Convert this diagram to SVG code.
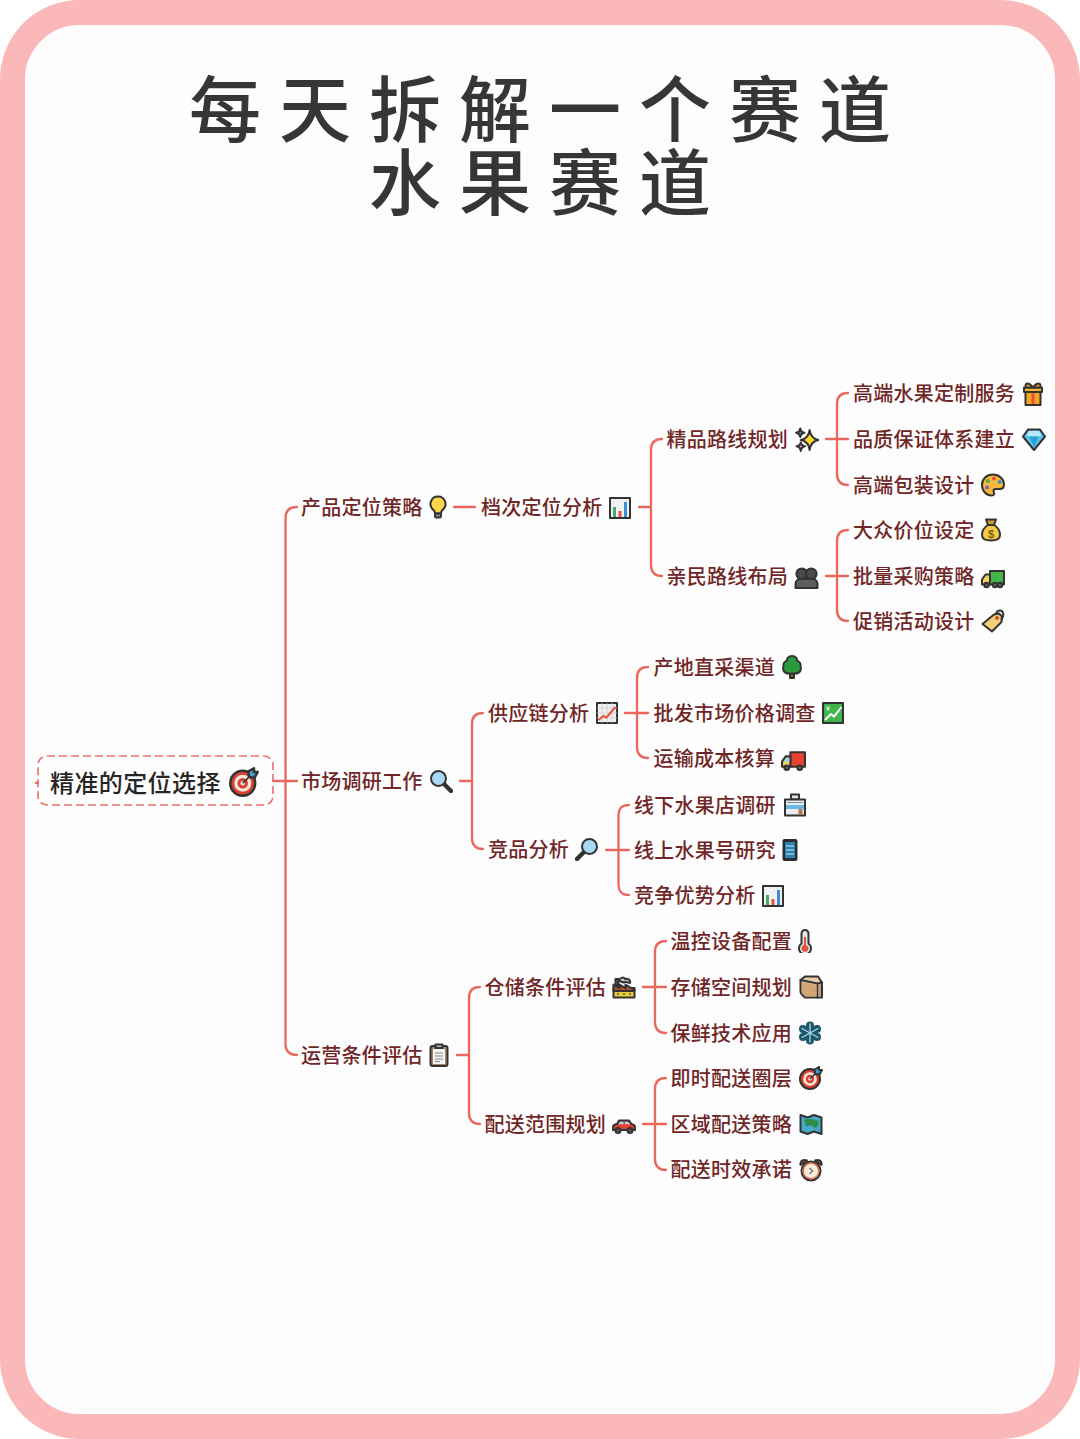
<svg xmlns="http://www.w3.org/2000/svg" width="1080" height="1439" viewBox="0 0 1080 1439">
<style>
.title{font-family:"Noto Sans CJK SC","Noto Sans",sans-serif;font-size:72px;font-weight:500;fill:#363636;letter-spacing:18px}
.t{font-family:"Noto Sans CJK SC","Noto Sans",sans-serif;font-size:20px;font-weight:500;fill:#702626;letter-spacing:.25px}
.root{font-family:"Noto Sans CJK SC","Noto Sans",sans-serif;font-size:24px;font-weight:500;fill:#262626;letter-spacing:.4px}
.c{fill:none;stroke:#e9675f;stroke-width:2.300;stroke-linecap:round}
.o{stroke:#333;stroke-width:2;stroke-linejoin:round;stroke-linecap:round}
.l{fill:none;stroke:#333;stroke-width:2;stroke-linejoin:round;stroke-linecap:round}
</style>
<defs>
<symbol id="bulb" viewBox="0 0 24 24"><path class="o" fill="#fcd34d" d="M12 1.500a7.500 7.500 0 0 0-4.500 13.500c1 .9 1.500 1.800 1.500 3.500h6c0-1.700.5-2.600 1.500-3.500A7.500 7.500 0 0 0 12 1.500z"/><rect class="o" x="9" y="18.500" width="6" height="4" rx="1.500" fill="#8a8a8a"/></symbol>
<symbol id="bars" viewBox="0 0 24 24"><rect class="o" x="2" y="2" width="20" height="20" fill="#eef2f2"/><rect x="5" y="11" width="3" height="10" fill="#46a86a"/><rect x="10.500" y="15" width="3" height="6" fill="#e5533d"/><rect x="16" y="6" width="3" height="15" fill="#3a8fd6"/></symbol>
<symbol id="spark" viewBox="0 0 24 24"><path class="o" fill="#fcd92f" d="M15 3Q16 11 23.500 12.500Q16 14 15 22Q14 14 6.500 12.500Q14 11 15 3z"/><path class="o" fill="#4d8db5" d="M6 1.500Q6.500 5 10 5.500Q6.500 6 6 9.500Q5.500 6 2 5.500Q5.500 5 6 1.500z"/><path class="o" fill="#e79ad0" d="M6.500 15Q7 18 10.500 18.500Q7 19 6.500 23Q6 19 2.500 18.500Q6 18 6.500 15z"/></symbol>
<symbol id="people" viewBox="0 0 24 24"><circle class="o" cx="7.500" cy="8.500" r="5.200" fill="#4a4a4a"/><circle class="o" cx="16.500" cy="8.500" r="5.200" fill="#4a4a4a"/><path class="o" fill="#5c5c5c" d="M1.500 22v-4c0-3 2.500-4.500 5-4.500h11c2.500 0 5 1.500 5 4.500v4z"/></symbol>
<symbol id="gift" viewBox="0 0 24 24"><path class="o" fill="#f5a623" d="M4.500 9h15v14h-15z"/><path fill="#e5533d" d="M10.500 9h3v13h-3z"/><rect class="o" x="3" y="5.500" width="18" height="4.500" fill="#f7b733"/><path class="o" fill="#f5a623" d="M12 5.500C8 0 3 .5 5 5.500zM12 5.500c4-5.500 9-5 7 0z"/></symbol>
<symbol id="gem" viewBox="0 0 24 24"><path class="o" fill="#5cc4ee" d="M6 2.500h12l5 7L12 23 1 9.500z"/><path fill="#b6e8fa" d="M7 4h10l2.500 5h-15z"/><path fill="#2e9fd6" d="M7.500 10h9L12 20.500z"/></symbol>
<symbol id="palette" viewBox="0 0 24 24"><path class="o" fill="#f6b93b" d="M12 1.500C5.500 1.500 1 6 1 12s4.500 10.500 9.500 10.500c3 0 3-2 2.200-3.500-.8-1.700.3-3 2-3h4c2.500 0 4.300-1.500 4.300-4.500C23 6 18 1.500 12 1.500z"/><circle cx="7" cy="8" r="2" fill="#4caf50"/><circle cx="13" cy="5.500" r="2" fill="#e5533d"/><circle cx="18.500" cy="9" r="2" fill="#3a8fd6"/><circle cx="6" cy="14.500" r="2" fill="#8e5bb5"/></symbol>
<symbol id="bag" viewBox="0 0 24 24"><path class="o" fill="#f6c945" d="M9 7C4 10 3 14 3 17c0 3.500 3 5.500 9 5.500s9-2 9-5.500c0-3-1-7-6-10z"/><path class="o" fill="#c99a2e" d="M7 1.500h10L15 7H9z"/><text x="12" y="19.500" font-family="Liberation Sans,sans-serif" font-size="11" font-weight="700" fill="#7a6015" text-anchor="middle">$</text></symbol>
<symbol id="truckg" viewBox="0 0 24 24"><rect class="o" x="9" y="5" width="14" height="13.500" fill="#43b649"/><path class="o" fill="#f6d25b" d="M9 8.500H4.500L1 13.500v5h8z"/><circle class="o" cx="5.500" cy="19" r="2.200" fill="#666"/><circle class="o" cx="14" cy="19" r="2.200" fill="#666"/><circle class="o" cx="19" cy="19" r="2.200" fill="#666"/></symbol>
<symbol id="truckr" viewBox="0 0 24 24"><rect class="o" x="9" y="4" width="14" height="14" fill="#e8432e"/><path class="o" fill="#f6d25b" d="M9 8H4.500L1 13v5h8z"/><path fill="#9ad5ef" d="M4.800 9.500H8v3.500H2.500z"/><circle class="o" cx="5.500" cy="19" r="2.200" fill="#666"/><circle class="o" cx="18" cy="19" r="2.200" fill="#666"/></symbol>
<symbol id="tag" viewBox="0 0 24 24"><path class="o" fill="#f6cf7a" d="M13 5.500l5-1 3 3-.5 5.500-9.500 9.500L1.500 15z"/><circle cx="16" cy="9" r="2" fill="#c8572e"/><path class="l" d="M15 5C16 1 21 0 22 4c.8 2.500-.5 5-1.500 6"/></symbol>
<symbol id="tree" viewBox="0 0 24 24"><rect class="o" x="10" y="16" width="4" height="7" fill="#8a5a2b"/><path class="o" fill="#2e9a40" d="M12 1C8 1 7 4 7 5.500 4.500 6.500 3 9 3.500 11 2 14 3.500 18.500 9 18.500h6c5.500 0 7-4.500 5.500-7.500.5-2-1-4.500-3.500-5.500C17 4 16 1 12 1z"/></symbol>
<symbol id="up" viewBox="0 0 24 24"><rect class="o" x="2" y="2" width="20" height="20" fill="#f1f1f1"/><path fill="none" stroke="#cfcfcf" stroke-width=".8" d="M2 7h20M2 12h20M2 17h20M7 2v20M12 2v20M17 2v20"/><path fill="none" stroke="#e5533d" stroke-width="2" d="M3.500 19l5-4 3 1.500L20.500 6"/></symbol>
<symbol id="yen" viewBox="0 0 24 24"><rect class="o" x="2" y="2" width="20" height="20" fill="#3fb54b"/><path fill="none" stroke="#fff" stroke-width="2" d="M4 19l6-6 3 2.500L20.500 6"/><text x="7" y="10" font-family="Liberation Sans,sans-serif" font-size="7" fill="#fff" text-anchor="middle">¥</text></symbol>
<symbol id="store" viewBox="0 0 24 24"><rect class="o" x="8" y="1.500" width="8" height="5" fill="#d7e6f3"/><rect class="o" x="2" y="6.500" width="20" height="16" fill="#e8eef4"/><rect x="3" y="12" width="18" height="4" fill="#6cb8e0"/><rect x="15.500" y="16" width="4" height="6" fill="#b07a45"/><path fill="none" stroke="#888" d="M4 9.500h16"/></symbol>
<symbol id="mag" viewBox="0 0 24 24"><path d="M14.500 14.500L22 22" stroke="#333" stroke-width="4.400" stroke-linecap="round"/><circle class="o" cx="9.500" cy="9.500" r="7.500" fill="#a9d8f2"/></symbol>
<symbol id="magr" viewBox="0 0 24 24"><path d="M9.500 14.500L2 22" stroke="#333" stroke-width="4.400" stroke-linecap="round"/><circle class="o" cx="14.500" cy="9.500" r="7.500" fill="#a9d8f2"/></symbol>
<symbol id="phone" viewBox="0 0 24 24"><rect x="4.500" y="1" width="15" height="22" rx="2" fill="#2d2d2d"/><rect x="7" y="4" width="10" height="16" fill="#2f7fb0"/><path stroke="#8fd0ee" stroke-width="1.500" d="M8 8h8M8 12h8M8 16h8"/></symbol>
<symbol id="factory" viewBox="0 0 24 24"><path class="o" fill="#f3c63f" d="M1.500 22.500V13h21v9.500z"/><path class="o" fill="#a5532a" d="M1.500 13V9.500l6 3.500V9.500l6 3.500V9.500l9 5.500v1H1.500z"/><path class="o" fill="#555" d="M3.500 10V4h3v7z"/><path class="o" fill="#ccc" d="M7 5c2-3 5-3 6-1 3-1 6 1 5 4-2 0-4-2-5-1-2 1-4 0-6-2z"/><path fill="#6b8a3a" d="M5 18h2v2H5zM11 18h2v2h-2zM17 18h2v2h-2z"/></symbol>
<symbol id="box" viewBox="0 0 24 24"><path class="o" fill="#e8cba8" d="M1.500 5L6 1.500h13l4 6V22.500H6C3.500 20 1.500 19 1.500 17z"/><path class="o" fill="none" d="M1.500 5l17 3.500 4.500-1M18.500 8.500v14"/><path fill="#c89a6c" d="M19.500 9.500l2.500-.8V21.500h-2.500z"/><path fill="#d2a476" d="M3 7l14.500 3v11.500H6.500C4.500 19.500 3 18.500 3 17z"/></symbol>
<symbol id="snow" viewBox="0 0 24 24"><circle cx="12" cy="4.500" r="4" fill="#1f5568"/><circle cx="12" cy="19.500" r="4" fill="#1f5568"/><circle cx="5" cy="8" r="4" fill="#1f5568"/><circle cx="19" cy="8" r="4" fill="#1f5568"/><circle cx="5" cy="16" r="4" fill="#1f5568"/><circle cx="19" cy="16" r="4" fill="#1f5568"/><circle cx="12" cy="12" r="7" fill="#1f5568"/><path stroke="#9fdcf0" stroke-width="1.300" stroke-linecap="round" d="M12 3v18M4 7.500l16 9M20 7.500l-16 9"/></symbol>
<symbol id="thermo" viewBox="0 0 24 24"><path class="o" fill="#d9e6ee" d="M8.500 4.500a3.500 3.500 0 0 1 7 0v10a6 6 0 1 1-7 0z"/><path fill="#e5533d" d="M11 8h2v8a3.500 3.500 0 1 1-2 0z"/></symbol>
<symbol id="target" viewBox="0 0 24 24"><circle class="o" cx="11" cy="13" r="10" fill="#d9402f"/><circle cx="11" cy="13" r="6.800" fill="#f5e6dc"/><circle cx="11" cy="13" r="4.200" fill="#d9402f"/><circle cx="11" cy="13" r="1.800" fill="#f5e6dc"/><path stroke="#333" stroke-width="1.400" d="M11 13L19 5"/><path class="o" fill="#3a9fd6" d="M15.500 3.500L20 1v3h3l-2.500 4.500L16 8z"/></symbol>
<symbol id="map" viewBox="0 0 24 24"><path class="o" fill="#49a7c9" d="M1.500 3l7 2.500L15 3l7.500 2.500V22L15 19.500 8.500 22l-7-2.500z"/><path fill="#2e8c4a" d="M5 7.500l6-.5 5 .5 3.500 1.500-.5 5-3 2-4-3-5 1.500z"/></symbol>
<symbol id="clock" viewBox="0 0 24 24"><circle class="o" cx="12" cy="13" r="9.500" fill="#f8ecd9"/><circle cx="12" cy="13" r="7.800" fill="none" stroke="#e2603e" stroke-width="1.200"/><path class="o" fill="#e2603e" d="M1.500 7C1 3 4 .8 8 2.500zM22.500 7C23 3 20 .8 16 2.500z"/><path fill="none" stroke="#777" stroke-width="1.500" d="M10.500 10l3 3-3 3"/></symbol>
<symbol id="clip" viewBox="0 0 24 24"><rect class="o" x="3.500" y="3" width="17" height="20" rx="2" fill="#a78663"/><rect x="6" y="6" width="12" height="15" fill="#f2f2f2"/><rect class="o" x="8.500" y="1.500" width="7" height="3.500" fill="#bbb"/><path stroke="#888" d="M8 10h8M8 13h8M8 16h8M8 18.500h5"/></symbol>
<symbol id="car" viewBox="0 0 24 24"><path class="o" fill="#e0442f" d="M1 17v-3c0-1.500 1.500-2.500 4-3l2-3.500h10l2.500 3.500c2 .5 3.500 1.500 3.500 3v3z"/><path fill="#a8d8ef" d="M8 8.800h3.500v2.500H6.500zM13 8.800h3l2 2.500h-5z"/><circle class="o" cx="6" cy="17.500" r="2.500" fill="#555"/><circle class="o" cx="18" cy="17.500" r="2.500" fill="#555"/></symbol>
</defs>

<rect id="page" width="1080" height="1439" fill="#fff"/>
<rect id="frame" x="12.500" y="12.500" width="1055" height="1414" rx="67" fill="#fdfdfd" stroke="#fab8b9" stroke-width="25"/>

<g id="heading">
<text class="title" x="189" y="136">每天拆解一个赛道</text>
<text class="title" x="369" y="209">水果赛道</text>
</g>

<g id="connectors">
<path class="c" d="M36 783H38"/>
<path class="c" d="M273 781H297M297 507C290 507 285.500 510 285.500 518V1044C285.500 1052 290 1055 297 1055"/>
<path class="c" d="M454 507H475"/>
<path class="c" d="M639 507H651M662 439C655 439 651 442 651 450V565C651 573 655 576 662 576"/>
<path class="c" d="M826 439H848M848 393C841 393 837 396 837 404V474C837 482 841 485 848 485"/>
<path class="c" d="M826 576H848M848 530C841 530 837 533 837 541V610C837 618 841 621 848 621"/>
<path class="c" d="M460 781H472M483 713C476 713 472 716 472 724V838C472 846 476 849 483 849"/>
<path class="c" d="M625 713H648M648 667C641 667 637 670 637 678V747C637 755 641 758 648 758"/>
<path class="c" d="M606 850H629M629 805C622 805 618.500 808 618.500 816V884C618.500 892 622 895 629 895"/>
<path class="c" d="M457 1055H469M480 987C473 987 469 990 469 998V1113C469 1121 473 1124 480 1124"/>
<path class="c" d="M643 987H666M666 941C659 941 655 944 655 952V1022C655 1030 659 1033 666 1033"/>
<path class="c" d="M643 1124H666M666 1078C659 1078 655 1081 655 1089V1159C655 1167 659 1170 666 1170"/>
</g>

<g id="n-root"><rect x="38" y="756" width="235" height="49" rx="9" fill="none" stroke="#e8706c" stroke-width="1.600" stroke-dasharray="8 4"/><text class="root" x="50" y="792">精准的定位选择</text><use href="#target" x="229" y="767" width="30" height="30"/></g>

<g id="n1"><text class="t" x="301" y="515">产品定位策略</text><use href="#bulb" x="426" y="495" width="24" height="24"/></g>
<g id="n11"><text class="t" x="481" y="515">档次定位分析</text><use href="#bars" x="608" y="496" width="24" height="24"/></g>
<g id="n111"><text class="t" x="666.500" y="447">精品路线规划</text><use href="#spark" x="794" y="427" width="25" height="25"/></g>
<g id="n1111"><text class="t" x="853" y="401">高端水果定制服务</text><use href="#gift" x="1021" y="382" width="24" height="24"/></g>
<g id="n1112"><text class="t" x="853" y="447">品质保证体系建立</text><use href="#gem" x="1022" y="427" width="24" height="24"/></g>
<g id="n1113"><text class="t" x="853" y="493">高端包装设计</text><use href="#palette" x="981" y="473" width="24" height="24"/></g>
<g id="n112"><text class="t" x="666.500" y="584">亲民路线布局</text><use href="#people" x="794" y="565" width="25" height="25"/></g>
<g id="n1121"><text class="t" x="853" y="538">大众价位设定</text><use href="#bag" x="979" y="518" width="24" height="24"/></g>
<g id="n1122"><text class="t" x="853" y="584">批量采购策略</text><use href="#truckg" x="981" y="566" width="24" height="24"/></g>
<g id="n1123"><text class="t" x="853" y="629">促销活动设计</text><use href="#tag" x="981" y="609" width="24" height="24"/></g>

<g id="n2"><text class="t" x="301" y="789">市场调研工作</text><use href="#mag" x="429" y="769" width="24" height="24"/></g>
<g id="n21"><text class="t" x="488" y="721">供应链分析</text><use href="#up" x="595" y="701" width="24" height="24"/></g>
<g id="n211"><text class="t" x="653.500" y="675">产地直采渠道</text><use href="#tree" x="780" y="655" width="24" height="24"/></g>
<g id="n212"><text class="t" x="653.500" y="721">批发市场价格调查</text><use href="#yen" x="821" y="701" width="24" height="24"/></g>
<g id="n213"><text class="t" x="653.500" y="766">运输成本核算</text><use href="#truckr" x="781" y="748" width="25" height="25"/></g>
<g id="n22"><text class="t" x="488" y="857">竞品分析</text><use href="#magr" x="575" y="837" width="24" height="24"/></g>
<g id="n221"><text class="t" x="634" y="813">线下水果店调研</text><use href="#store" x="783" y="793" width="24" height="24"/></g>
<g id="n222"><text class="t" x="634" y="858">线上水果号研究</text><use href="#phone" x="778" y="838" width="24" height="24"/></g>
<g id="n223"><text class="t" x="634" y="903">竞争优势分析</text><use href="#bars" x="761" y="884" width="24" height="24"/></g>

<g id="n3"><text class="t" x="301" y="1063">运营条件评估</text><use href="#clip" x="427" y="1043" width="24" height="24"/></g>
<g id="n31"><text class="t" x="484.500" y="995">仓储条件评估</text><use href="#factory" x="612" y="975" width="24" height="24"/></g>
<g id="n311"><text class="t" x="670.500" y="949">温控设备配置</text><use href="#thermo" x="793" y="929" width="24" height="24"/></g>
<g id="n312"><text class="t" x="670.500" y="995">存储空间规划</text><use href="#box" x="799" y="975" width="24" height="24"/></g>
<g id="n313"><text class="t" x="670.500" y="1041">保鲜技术应用</text><use href="#snow" x="798" y="1021" width="24" height="24"/></g>
<g id="n32"><text class="t" x="484.500" y="1132">配送范围规划</text><use href="#car" x="612" y="1113" width="24" height="24"/></g>
<g id="n321"><text class="t" x="670.500" y="1086">即时配送圈层</text><use href="#target" x="799" y="1066" width="24" height="24"/></g>
<g id="n322"><text class="t" x="670.500" y="1132">区域配送策略</text><use href="#map" x="799" y="1112" width="24" height="24"/></g>
<g id="n323"><text class="t" x="670.500" y="1177">配送时效承诺</text><use href="#clock" x="799" y="1158" width="24" height="24"/></g>
</svg>
